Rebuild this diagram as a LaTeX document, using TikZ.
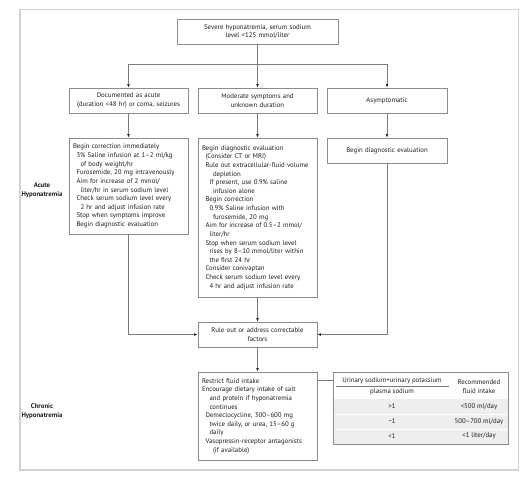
\documentclass[tikz,border=0pt]{standalone}
\usepackage{fontspec}
\setmainfont{PT Sans}
\usetikzlibrary{arrows.meta,calc}
\definecolor{boxgray}{HTML}{8C8C8C}
\definecolor{linegray}{HTML}{7A7A7A}
\definecolor{framegray}{HTML}{D2D2D2}
\definecolor{rowgray}{HTML}{EEEEEE}
\definecolor{txt}{HTML}{1E1E1E}
\newcommand\myfs{\fontsize{6.8pt}{8.63pt}\selectfont}
\newcommand\ia{\hspace*{3.5pt}}
\newcommand\ib{\hspace*{7.5pt}}
\newcommand\ic{\hspace*{11pt}}
\begin{document}
\begin{tikzpicture}[x=1pt,y=-1pt,
  every node/.style={text=txt},
  box/.style={draw=boxgray, line width=0.7pt, inner xsep=3.5pt, inner ysep=1pt, font=\myfs, fill=white},
  cbox/.style={box, align=center},
  lbox/.style={box, align=left},
  conn/.style={draw=linegray, line width=0.6pt},
  arr/.style={conn, -{Latex[length=3.6pt,width=2.8pt,color=black!85]}},
  side/.style={font=\myfs\bfseries, align=center},
  cell/.style={font=\myfs, inner sep=0pt, align=center}]
\useasboundingbox (0,0) rectangle (529,480);
\draw[framegray, line width=1.3pt] (20,9.5) rectangle (518.5,470);

\node[cbox, minimum width=161, minimum height=25, text width=153] (top) at (257.5,31.5)
  {Severe hyponatremia, serum sodium\\level <125 mmol/liter};

\node[cbox, minimum width=119, minimum height=25, text width=111] (a1) at (128.5,100.5)
  {Documented as acute\\(duration <48 hr) or coma, seizures};
\node[cbox, minimum width=119, minimum height=25, text width=111] (a2) at (257.5,100.5)
  {Moderate symptoms and\\unknown duration};
\node[cbox, minimum width=120, minimum height=25, text width=112] (a3) at (387,100.5)
  {Asymptomatic};

\node[lbox, minimum width=119, minimum height=96, text width=111] (c1) at (128.5,186)
  {Begin correction immediately\\
   \ia 3\% Saline infusion at 1–2 ml/kg\\
   \ib of body weight/hr\\
   \ia Furosemide, 20 mg intravenously\\
   \ia Aim for increase of 2 mmol/\\
   \ib liter/hr in serum sodium level\\
   \ia Check serum sodium level every\\
   \ib 2 hr and adjust infusion rate\\
   \ia Stop when symptoms improve\\
   \ia Begin diagnostic evaluation};

\node[lbox, minimum width=119, minimum height=159, text width=111] (c2) at (257.5,217.5)
  {Begin diagnostic evaluation\\
   \ia (Consider CT or MRI)\\
   \ia Rule out extracellular-fluid volume\\
   \ic depletion\\
   \ib If present, use 0.9\% saline\\
   \ic infusion alone\\
   \ia Begin correction\\
   \ib 0.9\% Saline infusion with\\
   \ic furosemide, 20 mg\\
   \ia Aim for increase of 0.5–2 mmol/\\
   \ib liter/hr\\
   \ia Stop when serum sodium level\\
   \ib rises by 8–10 mmol/liter within\\
   \ib the first 24 hr\\
   \ia Consider conivaptan\\
   \ia Check serum sodium level every\\
   \ib 4 hr and adjust infusion rate};

\node[cbox, minimum width=120, minimum height=25, text width=112] (c3) at (387,150.5)
  {Begin diagnostic evaluation};

\node[cbox, minimum width=119, minimum height=25, text width=111] (rule) at (257.5,334.5)
  {Rule out or address correctable\\factors};

\node[lbox, minimum width=119, minimum height=88, text width=111] (chr) at (257.5,416)
  {Restrict fluid intake\\
   Encourage dietary intake of salt\\
   \ib and protein if hyponatremia\\
   \ib continues\\
   \ia Demeclocycline, 300–600 mg\\
   \ib twice daily, or urea, 15–60 g\\
   \ib daily\\
   \ia Vasopressin-receptor antagonists\\
   \ic (if available)};

% table
\node[draw=boxgray, line width=0.7pt, minimum width=175, minimum height=72, inner sep=0pt] (tbl) at (420.5,408) {};
\fill[rowgray] (333.5,399) rectangle (507.5,443.6);
\draw[white, line width=1pt] (333.5,414.2) -- (507.5,414.2);
\draw[white, line width=1pt] (333.5,429) -- (507.5,429);
\node[cell] (h1) at (392,381) {Urinary sodium+urinary potassium};
\draw[linegray, line width=0.5pt] (335.5,386.5) -- (449,386.5);
\node[cell] (h2) at (392,391.5) {plasma sodium};
\node[cell] (h3) at (479,386.5) {Recommended\\fluid intake};
\node[cell] (r11) at (392,406.5) {>1};
\node[cell] (r12) at (479,406.5) {<500 ml/day};
\node[cell] (r21) at (392,421.5) {\textasciitilde1};
\node[cell] (r22) at (479,421.5) {500–700 ml/day};
\node[cell] (r31) at (392,436) {<1};
\node[cell] (r32) at (479,436) {<1 liter/day};

% side labels
\node[side] (acute) at (42,190.5) {Acute\\Hyponatremia};
\node[side] (chronic) at (42,411) {Chronic\\Hyponatremia};

% connectors
\coordinate (split) at (257.5,64);
\draw[conn] (top.south) -- (split);
\draw[arr] (split) -| (a1.north);
\draw[arr] (split) -- (a2.north);
\draw[arr] (split) -| (a3.north);
\draw[arr] (a1.south) -- (c1.north);
\draw[arr] (a2.south) -- (c2.north);
\draw[arr] (a3.south) -- (c3.north);
\draw[arr] (c1.south) |- (rule.west);
\draw[arr] (c2.south) -- (rule.north);
\draw[arr] (c3.south) |- (rule.east);
\draw[arr] (rule.south) -- (chr.north);
\draw[conn] ([yshift=-9pt]chr.north east) -- ([yshift=-9pt]tbl.north west);
\end{tikzpicture}
\end{document}
